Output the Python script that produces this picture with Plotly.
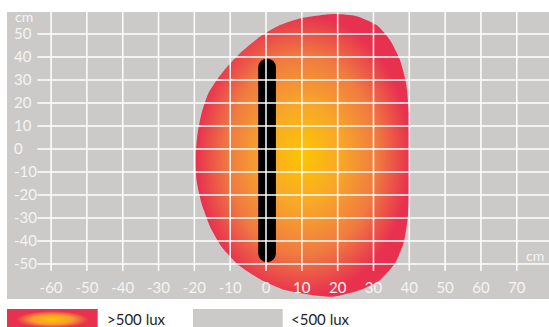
import plotly.graph_objects as go

# ---- data ----
x_ticks = [-60, -50, -40, -30, -20, -10, 0, 10, 20, 30, 40, 50, 60, 70]
y_ticks = [-50, -40, -30, -20, -10, 0, 10, 20, 30, 40, 50]

# outline of the >500 lux zone (cm)
zone_x = [18.8, 25.3, 30.9, 34.6, 37.4, 39.1, 40.0, 40.2, 40.0, 39.5, 38.4, 36.0, 31.8,
          26.3, 18.8, 10.9, 5.3, -1.2, -7.7, -12.4, -15.6, -18.0, -19.4, -19.6, -19.1,
          -18.0, -16.1, -13.3, -10.3, -7.3, -1.7, 3.9, 9.5, 18.8]
zone_y = [58.7, 57.8, 53.9, 47.4, 38.7, 28.6, 14.0, -2.0, -19.3, -30.9, -41.0, -49.7, -57.0,
          -61.3, -64.2, -63.0, -61.3, -57.0, -50.4, -42.5, -33.8, -23.6, -13.5, -2.0, 6.8,
          15.5, 24.2, 31.0, 36.8, 41.6, 48.8, 53.9, 56.8, 58.7]

# luminaire (vertical bar) position in cm
lamp_x = 0.3
lamp_y_top = 39.4
lamp_y_bottom = -49.2

legend_labels = [">500 lux", "<500 lux"]

# ---- style ----
W, H = 549, 327
GRAY = "#cccac8"
RED = "#e8314f"
grad = [[0.0, "#fdc600"], [0.35, "#f8a828"], [0.7, "#f07a40"], [1.0, RED]]
FONT = "Lato"

x_range = [-72.3, 79.0]
y_range = [-65.2, 59.6]
plot_left, plot_top, plot_bottom = 7, 12, 299

px_per_y = (plot_bottom - plot_top) / (y_range[1] - y_range[0])
bar_w = 17.7
cap = (bar_w / 2) / px_per_y

fig = go.Figure()

fig.add_trace(go.Scatter(
    x=zone_x, y=zone_y, mode="lines", line=dict(width=0, shape="spline", smoothing=0.6),
    fill="toself", fillgradient=dict(type="radial", colorscale=grad),
    hoverinfo="skip", showlegend=False))

fig.add_trace(go.Scatter(
    x=[lamp_x, lamp_x], y=[lamp_y_bottom + cap, lamp_y_top - cap],
    mode="lines+markers", line=dict(color="black", width=bar_w),
    marker=dict(color="black", size=bar_w, line=dict(width=0)),
    hoverinfo="skip", showlegend=False))

# legend swatch (gradient)
sw = [7, 97.7, 309, 330]
fig.add_trace(go.Scatter(
    x=[sw[0], sw[1], sw[1], sw[0], sw[0]], y=[H - sw[2], H - sw[2], H - sw[3], H - sw[3], H - sw[2]],
    mode="lines", line=dict(width=0), fill="toself",
    fillgradient=dict(type="radial", colorscale=[[0, "#fdc600"], [0.45, "#f59c2e"], [0.8, RED], [1, RED]]),
    xaxis="x2", yaxis="y2", hoverinfo="skip", showlegend=False))

shapes = [dict(type="rect", xref="x domain", yref="y domain", x0=0, x1=1, y0=0, y1=1,
               fillcolor=GRAY, line=dict(width=0), layer="below")]
for xv in x_ticks:
    shapes.append(dict(type="line", xref="x", yref="y", x0=xv, x1=xv, y0=-53, y1=y_range[1],
                       line=dict(color="white", width=1.5), layer="above"))
for yv in y_ticks:
    shapes.append(dict(type="line", xref="x", yref="y", x0=-63.8, x1=x_range[1], y0=yv, y1=yv,
                       line=dict(color="white", width=1.5), layer="above"))
# gray legend swatch
shapes.append(dict(type="rect", xref="x2", yref="y2", x0=193, x1=282.7, y0=H - 309, y1=H - 330,
                   fillcolor=GRAY, line=dict(width=0), layer="below"))

tickfont = dict(family=FONT, size=15, color="#f4f4f4")
cmfont = dict(family=FONT, size=14, color="#f4f4f4")
legfont = dict(family=FONT, size=15, color="#231f20")
annotations = [
    dict(text="cm", xref="paper", yref="paper", x=14 / W, y=1 - 16.5 / H, xanchor="left", yanchor="middle",
         showarrow=False, font=cmfont, borderpad=0),
    dict(text="cm", xref="paper", yref="paper", x=545 / W, y=1 - 255 / H, xanchor="right", yanchor="middle",
         showarrow=False, font=cmfont, borderpad=0),
    dict(text=legend_labels[0], xref="paper", yref="paper", x=106 / W, y=1 - 319 / H, xanchor="left",
         yanchor="middle", showarrow=False, font=legfont, borderpad=0),
    dict(text=legend_labels[1], xref="paper", yref="paper", x=290 / W, y=1 - 319 / H, xanchor="left",
         yanchor="middle", showarrow=False, font=legfont, borderpad=0),
]

fig.update_layout(
    width=W, height=H, margin=dict(l=0, r=0, t=0, b=0),
    paper_bgcolor="white", plot_bgcolor="rgba(0,0,0,0)",
    xaxis=dict(domain=[plot_left / W, 1], range=x_range, tickvals=x_ticks, ticktext=[str(v) for v in x_ticks],
               showgrid=False, zeroline=False, showline=False, ticks="", ticklabelposition="inside",
               tickfont=tickfont, fixedrange=True),
    yaxis=dict(domain=[1 - plot_bottom / H, 1 - plot_top / H], range=y_range, tickvals=y_ticks,
               ticktext=[str(v) for v in y_ticks], showgrid=False, zeroline=False, showline=False,
               ticks="", ticklabelposition="inside", ticklabelstandoff=4, tickfont=tickfont, fixedrange=True),
    xaxis2=dict(domain=[0, 1], range=[0, W], visible=False, anchor="y2", fixedrange=True),
    yaxis2=dict(domain=[0, 1 - 309 / H + 0.0001], range=[0, H - 309], visible=False, anchor="x2", fixedrange=True),
    shapes=shapes, annotations=annotations,
)

fig.write_html("out.html", config={"displayModeBar": False},
               post_script="document.body.style.margin='0';")
